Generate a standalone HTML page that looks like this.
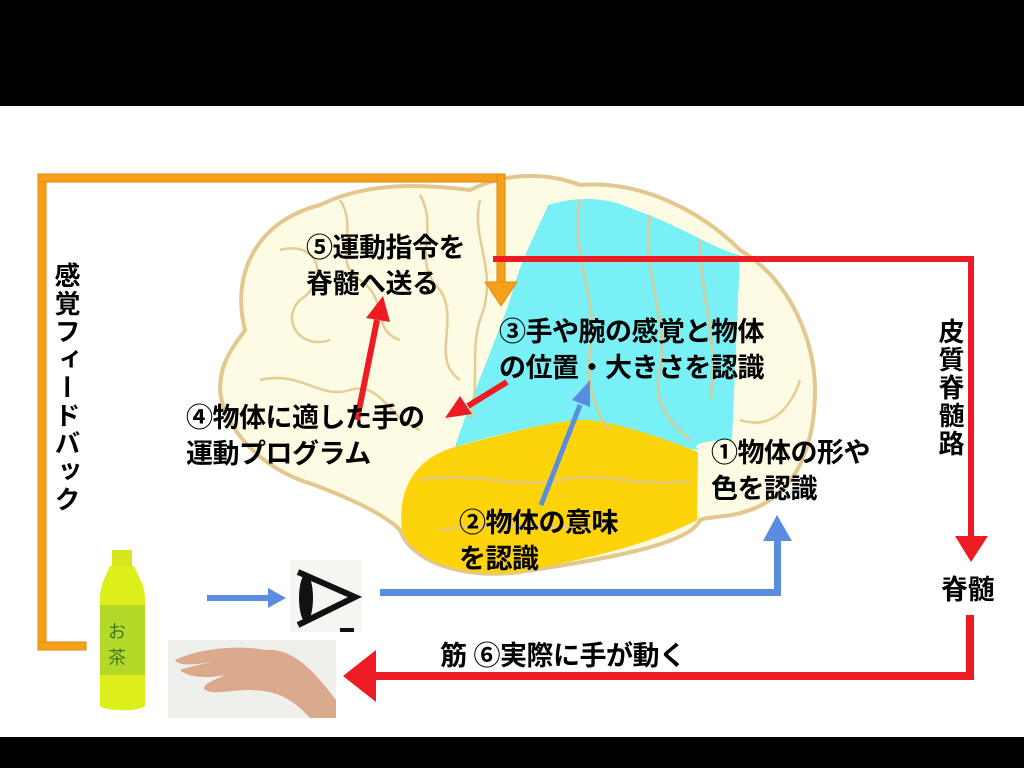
<!DOCTYPE html>
<html><head><meta charset="utf-8"><style>
body{margin:0;width:1024px;height:768px;overflow:hidden;background:#fff;font-family:"Liberation Sans","Noto Sans CJK JP",sans-serif;}
.t{position:absolute;font-weight:bold;font-size:27px;line-height:36px;color:#000;white-space:nowrap;letter-spacing:-0.5px;}
.v{writing-mode:vertical-rl;font-size:26px;line-height:28px;letter-spacing:2px;}
</style></head><body>
<svg width="1024" height="768" style="position:absolute;left:0;top:0">
<rect x="0" y="0" width="1024" height="106" fill="#000"/>
<rect x="0" y="737" width="1024" height="31" fill="#000"/>
<path d="M245,330 C230,270 260,220 320,205 C370,180 430,185 470,190 C500,175 540,170 580,185 C640,180 700,210 740,250 C790,280 815,340 815,390 C815,440 800,480 770,500 C740,520 710,515 700,520 C690,545 600,560 520,572 C460,580 410,560 400,530 C380,510 330,490 300,480 C250,460 222,420 220,390 C220,360 235,345 245,330 Z" fill="#fdfbe3" stroke="#e2c88e" stroke-width="4"/>
<path d="M548,205 C580,195 610,198 635,210 C680,225 715,250 740,255 L732,440 C700,440 690,446 700,450 C650,445 600,420 580,420 C530,425 480,440 455,447 C470,400 500,330 510,300 C520,260 540,225 548,205 Z" fill="#78f0f5"/>
<path d="M455,447 C500,435 560,418 590,420 C630,425 680,445 698,452 L697,520 C650,545 580,560 520,572 C460,578 412,560 402,530 C398,495 410,460 455,447 Z" fill="#fdd30a"/>
<g fill="none" stroke="#e2c88e" stroke-width="2.5" opacity="0.9">
<path d="M280,250 C320,240 330,280 300,300 C280,320 300,350 330,340"/>
<path d="M340,200 C360,230 330,260 360,280 C390,300 370,330 400,340"/>
<path d="M420,195 C440,230 410,260 440,290 C460,320 430,360 460,380"/>
<path d="M480,200 C470,240 500,270 480,320 C470,350 480,390 470,420"/>
<path d="M260,380 C300,370 320,400 350,390 C380,380 390,420 420,430"/>
<path d="M580,200 C570,260 600,300 590,350 C585,390 600,420 610,430"/>
<path d="M650,215 C640,270 670,320 660,370 C650,410 680,430 690,440"/>
<path d="M700,240 C700,300 720,340 710,400"/>
<path d="M420,480 C470,470 520,490 560,480 C600,470 650,490 690,480"/>
<path d="M440,530 C500,520 560,535 620,520"/>
<path d="M740,420 C770,430 790,410 800,380"/>
</g>
<g fill="#f6a01a" stroke="#e08a10" stroke-width="1">
<rect x="38" y="174" width="8" height="476"/>
<rect x="38" y="174" width="464" height="8"/>
<rect x="38" y="642" width="48" height="8"/>
<rect x="497" y="174" width="8" height="110"/>
<polygon points="485,282 517,282 501,306"/>
</g>
<g fill="#ed1c24">
<rect x="493" y="256" width="481" height="6"/>
<rect x="968" y="256" width="6" height="282"/>
<polygon points="955,536 988,536 971,562"/>
<rect x="966" y="615" width="8" height="64"/>
<rect x="372" y="672" width="602" height="8"/>
<polygon points="343,676 376,650 376,702"/>
<line x1="357" y1="420" x2="377" y2="320" stroke="#ed1c24" stroke-width="6"/>
<polygon points="366,318 390,322 383,296"/>
<line x1="507" y1="382" x2="468" y2="406" stroke="#ed1c24" stroke-width="6"/>
<polygon points="445,418 460,396 472,414"/>
</g>
<g fill="#5a8de0">
<rect x="207" y="595" width="62" height="6"/>
<polygon points="268,588 286,598 268,608"/>
<rect x="380" y="589" width="400" height="7"/>
<rect x="774" y="540" width="7" height="56"/>
<polygon points="763,541 792,541 777,515"/>
<line x1="541" y1="505" x2="580" y2="405" stroke="#5a8de0" stroke-width="5"/>
<polygon points="572,400 590,407 590,380"/>
</g>
<rect x="290" y="560" width="72" height="72" fill="#f5f5f2"/>
<path d="M298,572 L355,597 L298,625" fill="none" stroke="#111" stroke-width="6"/>
<ellipse cx="306" cy="598" rx="7" ry="24" fill="#111"/>
<rect x="340" y="628" width="14" height="4" fill="#111"/>
<rect x="112" y="550" width="20" height="16" fill="#d6e61a"/>
<path d="M110,566 L134,566 C140,580 145,585 145,600 L145,705 C145,712 100,712 100,705 L100,600 C100,585 104,580 110,566 Z" fill="#dcef1a"/>
<rect x="100" y="605" width="45" height="70" fill="#b5d928"/>
<text x="108" y="638" font-size="18" fill="#3a7a25" font-family="Noto Sans CJK JP">お</text>
<text x="108" y="664" font-size="18" fill="#3a7a25" font-family="Noto Sans CJK JP">茶</text>
<rect x="168" y="640" width="168" height="78" fill="#efefec"/>
<path d="M175,660 C200,648 240,645 265,650 C290,648 310,665 336,700 L336,718 L310,718 C290,695 270,690 250,690 C230,690 215,695 205,690 C200,685 215,680 225,675 C200,680 185,675 180,670 C195,665 205,664 210,662 C195,665 178,666 175,660 Z" fill="#dba98c"/>
</svg>
<div class="t" style="left:306px;top:230px">⑤運動指令を<br>脊髄へ送る</div>
<div class="t" style="left:499px;top:314px">③手や腕の感覚と物体<br>の位置・大きさを認識</div>
<div class="t" style="left:186px;top:400px">④物体に適した手の<br>運動プログラム</div>
<div class="t" style="left:711px;top:435px">①物体の形や<br>色を認識</div>
<div class="t" style="left:459px;top:505px">②物体の意味<br>を認識</div>
<div class="t v" style="left:52px;top:262px">感覚フィードバック</div>
<div class="t v" style="left:936px;top:318px">皮質脊髄路</div>
<div class="t" style="left:941px;top:572px">脊髄</div>
<div class="t" style="left:440px;top:638px">筋 ⑥実際に手が動く</div>
</body></html>
